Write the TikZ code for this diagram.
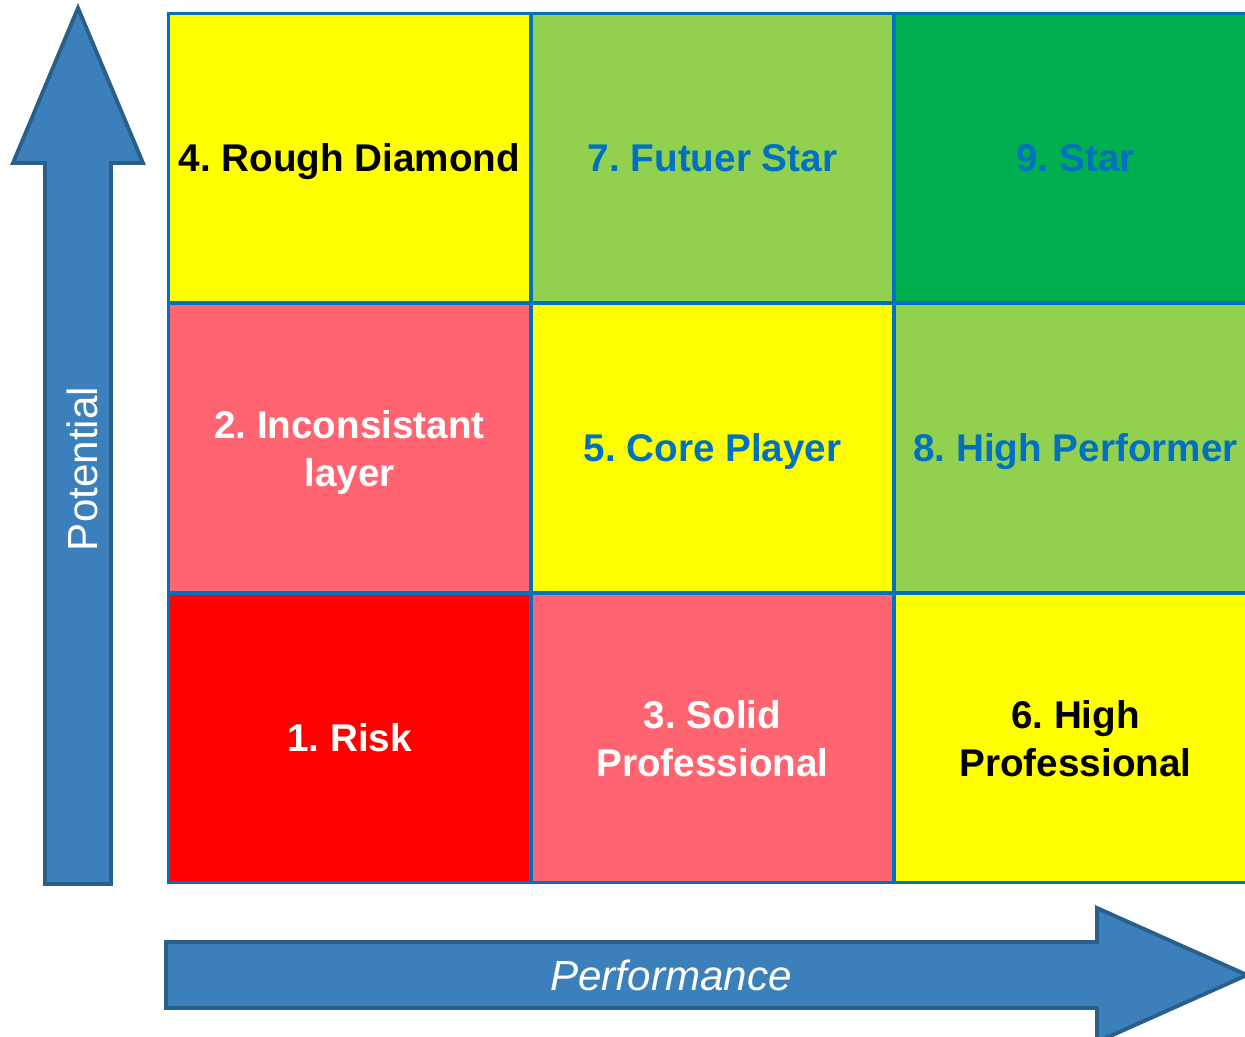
\documentclass[tikz,border=0pt]{standalone}
\usepackage{fontspec}
\setmainfont{Liberation Sans}
\frenchspacing

\definecolor{flecha}{HTML}{3B80BA}
\definecolor{bordeflecha}{HTML}{2A5F8A}
\definecolor{lineagrid}{HTML}{0070C0}
\definecolor{amarillo}{HTML}{FFFF00}
\definecolor{verdeclaro}{HTML}{92D050}
\definecolor{verde}{HTML}{00B050}
\definecolor{salmon}{HTML}{FF6471}
\definecolor{rojo}{HTML}{FF0000}

\tikzset{
  celda/.style={draw=lineagrid, line width=1.7pt, minimum width=7.26cm, minimum height=5.8cm,
    inner sep=0pt},
  rotulo/.style={align=center, yshift=-0.08cm, font=\fontsize{22}{27.5}\selectfont\bfseries,
    execute at begin node=\strut, execute at end node=\strut},
  rotulodoble/.style={rotulo, yshift=-0.07cm},
  ejeflecha/.style={fill=flecha, draw=bordeflecha, line width=2.2pt, line join=miter},
  ejetexto/.style={text=white, font=\fontsize{24}{28}\selectfont}
}

\begin{document}
\begin{tikzpicture}[x=0.02cm, y=-0.02cm]

 % marco de la figura
 \useasboundingbox (0,0) rectangle (1245,1037);

 % --- FLECHAS DE LOS EJES ---

 % Eje vertical (potencial)
 \draw[ejeflecha] (78,8) -- (13,163) -- (45,163) -- (45,884) -- (111,884)
   -- (111,163) -- (143,163) -- cycle;
 \node[ejetexto, rotate=90] (potencial) at (82,469) {Potential};

 % Eje horizontal (rendimiento)
 \draw[ejeflecha] (166,942) -- (1097,942) -- (1097,908) -- (1247,975)
   -- (1097,1042) -- (1097,1008) -- (166,1008) -- cycle;
 \node[ejetexto, font=\fontsize{24}{28}\selectfont\itshape] (rendimiento) at (671,975) {Performance};

 % --- MATRIZ 3x3 ---
 % el texto va como etiqueta centrada, un poco más abajo

 % Fila superior
 \node[celda, fill=amarillo, label={[rotulo, text=black]center:4. Rough Diamond}] (c4) at (349.5,158) {};
 \node[celda, fill=verdeclaro, label={[rotulo, text=lineagrid]center:7. Futuer Star}] (c7) at (712.5,158) {};
 \node[celda, fill=verde, label={[rotulo, text=lineagrid]center:9. Star}] (c9) at (1075.5,158) {};

 % Fila central
 \node[celda, fill=salmon, label={[rotulodoble, text=white]center:2. Inconsistant\\layer}] (c2) at (349.5,448) {};
 \node[celda, fill=amarillo, label={[rotulo, text=lineagrid]center:5. Core Player}] (c5) at (712.5,448) {};
 \node[celda, fill=verdeclaro, label={[rotulo, text=lineagrid]center:8. High Performer}] (c8) at (1075.5,448) {};

 % Fila inferior
 \node[celda, fill=rojo, label={[rotulo, text=white]center:1. Risk}] (c1) at (349.5,738) {};
 \node[celda, fill=salmon, label={[rotulodoble, text=white]center:3. Solid\\Professional}] (c3) at (712.5,738) {};
 \node[celda, fill=amarillo, label={[rotulodoble, text=black]center:6. High\\Professional}] (c6) at (1075.5,738) {};

\end{tikzpicture}
\end{document}
